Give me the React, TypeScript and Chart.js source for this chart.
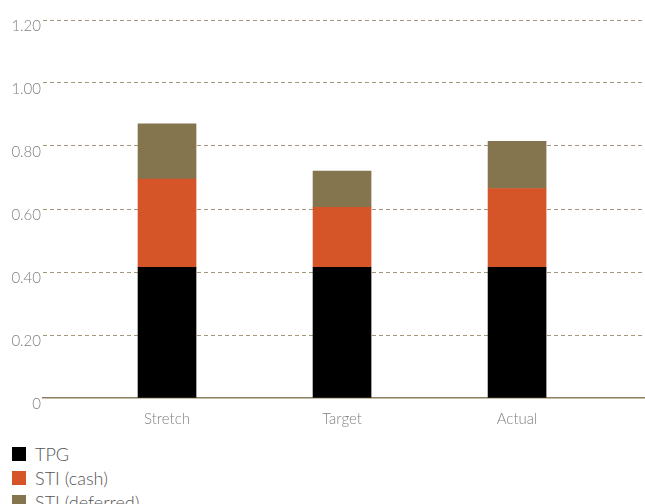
import React, { useEffect, useRef } from "react";
import { Chart, registerables } from "chart.js";
Chart.register(...registerables);

const categories = ["Stretch", "Target", "Actual"];
const tpg = [0.415, 0.415, 0.415];
const stiCash = [0.28, 0.19, 0.25];
const stiDeferred = [0.175, 0.115, 0.15];
const yTicks = [0, 0.2, 0.4, 0.6, 0.8, 1.0, 1.2];

const seriesNames = ["TPG", "STI (cash)", "STI (deferred)"];
const seriesColors = ["#000000", "#D55528", "#85754F"];
const FONT = "Lato, 'Open Sans', sans-serif";

export default function App() {
  const ref = useRef<HTMLCanvasElement | null>(null);
  useEffect(() => {
    document.body.style.margin = "0";
    if (!ref.current) return;
    const toPts = (arr: number[]) => arr.map((v, i) => ({ x: i, y: v }));
    const chart = new Chart(ref.current, {
      type: "bar",
      data: {
        datasets: [tpg, stiCash, stiDeferred].map((d, i) => ({
          label: seriesNames[i],
          data: toPts(d),
          backgroundColor: seriesColors[i],
          barThickness: 58,
          borderWidth: 0,
        })) as any,
      },
      options: {
        animation: false,
        responsive: true,
        maintainAspectRatio: false,
        layout: { padding: { top: 20, right: 0, left: 0, bottom: 0 } },
        plugins: { legend: { display: false }, tooltip: { enabled: false } },
        scales: {
          x: {
            type: "linear",
            stacked: true,
            offset: false,
            min: -0.7086,
            max: 2.731,
            afterBuildTicks: (s: any) => {
              s.ticks = categories.map((_, i) => ({ value: i }));
            },
            afterFit: (s: any) => {
              s.height = 42;
            },
            ticks: {
              callback: (v: any) => categories[v as number] ?? "",
              color: "#808080",
              font: { family: FONT, size: 15, weight: "300" as any },
              padding: 12,
              maxRotation: 0,
            },
            grid: { display: false, drawTicks: false },
            border: { display: true, color: "#8C7F5E", width: 1.5 },
          },
          y: {
            stacked: true,
            min: 0,
            max: 1.2,
            afterBuildTicks: (s: any) => {
              s.ticks = yTicks.map((v) => ({ value: v }));
            },
            afterFit: (s: any) => {
              s.width = 43;
            },
            ticks: {
              callback: (v: any) => (v === 0 ? "0" : Number(v).toFixed(2)),
              color: "#808080",
              font: { family: FONT, size: 15, weight: "300" as any },
              padding: 2,
              labelOffset: 6,
            },
            grid: {
              drawTicks: false,
              color: (c: any) => (c.tick && c.tick.value === 0 ? "rgba(0,0,0,0)" : "#A3977C"),
              lineWidth: 1,
            },
            border: { display: false, dash: [4, 3] },
          },
        },
      },
    });
    return () => chart.destroy();
  }, []);

  return (
    <div style={{ width: 645, height: 504, overflow: "hidden", fontFamily: FONT }}>
      <div style={{ position: "relative", width: 645, height: 440 }}>
        <canvas ref={ref} />
      </div>
      <div style={{ paddingLeft: 12, paddingTop: 2 }}>
        {seriesNames.map((n, i) => (
          <div key={n} style={{ display: "flex", alignItems: "center", height: 24 }}>
            <span style={{ width: 14, height: 14, background: seriesColors[i], display: "inline-block", marginRight: 9 }} />
            <span style={{ fontSize: 18, color: "#555", fontWeight: 300 }}>{n}</span>
          </div>
        ))}
      </div>
    </div>
  );
}
